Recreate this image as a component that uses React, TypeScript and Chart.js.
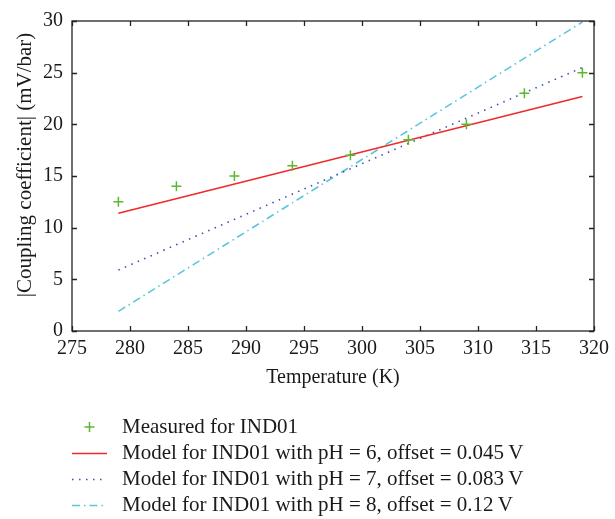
import { useEffect, useRef } from "react";
import { Chart, registerables } from "chart.js";

Chart.register(...registerables);

const measuredTemps = [279, 284, 289, 294, 299, 304, 309, 314, 319];
const measuredValues = [12.5, 14, 15, 16, 17, 18.5, 20, 23, 25];
const modelTemps = [279, 319];
const modelPH6 = [11.4, 22.7];
const modelPH7 = [5.9, 25.5];
const modelPH8 = [1.9, 29.9];
const xTicks = [275, 280, 285, 290, 295, 300, 305, 310, 315, 320];
const yTicks = [0, 5, 10, 15, 20, 25, 30];
const seriesLabels = [
  "Measured for IND01",
  "Model for IND01 with pH = 6, offset = 0.045\u2009V",
  "Model for IND01 with pH = 7, offset = 0.083\u2009V",
  "Model for IND01 with pH = 8, offset = 0.12\u2009V",
];
const xTitle = "Temperature (K)";
const yTitle = "|Coupling coefficient| (mV/bar)";

const FONT = '"Liberation Serif", "Times New Roman", serif';
const TEXT = "#1a1a1a";

const pts = (xs: number[], ys: number[]) => xs.map((x, i) => ({ x, y: ys[i] }));

const framePlugin = {
  id: "frameAndLegend",
  afterDatasetsDraw(chart: any) {
    const { ctx, chartArea, scales } = chart;
    const { left, right, top, bottom } = chartArea;
    const x = scales.x;
    const y = scales.y;
    ctx.save();
    ctx.strokeStyle = "#222";
    ctx.lineWidth = 1.3;
    ctx.setLineDash([]);
    ctx.strokeRect(left, top, right - left, bottom - top);
    const tl = 5;
    ctx.beginPath();
    for (const t of x.ticks) {
      const px = Math.round(x.getPixelForValue(t.value)) + 0.5;
      ctx.moveTo(px, bottom);
      ctx.lineTo(px, bottom - tl);
      ctx.moveTo(px, top);
      ctx.lineTo(px, top + tl);
    }
    for (const t of y.ticks) {
      const py = Math.round(y.getPixelForValue(t.value)) + 0.5;
      ctx.moveTo(left, py);
      ctx.lineTo(left + tl, py);
      ctx.moveTo(right, py);
      ctx.lineTo(right - tl, py);
    }
    ctx.stroke();

    // y-axis title
    ctx.save();
    ctx.translate(25, 165);
    ctx.rotate(-Math.PI / 2);
    ctx.font = `21px ${FONT}`;
    ctx.fillStyle = TEXT;
    ctx.textAlign = "center";
    ctx.textBaseline = "middle";
    ctx.fillText(yTitle, 0, 0);
    ctx.restore();

    // legend
    const datasets = chart.data.datasets;
    ctx.font = `21px ${FONT}`;
    ctx.textAlign = "left";
    ctx.textBaseline = "middle";
    datasets.forEach((ds: any, i: number) => {
      const ry = 427 + 26 * i;
      const x0 = 72;
      const x1 = 107;
      if (ds.showLine === false) {
        const cx = (x0 + x1) / 2;
        ctx.strokeStyle = ds.borderColor;
        ctx.lineWidth = ds.pointBorderWidth;
        ctx.setLineDash([]);
        ctx.beginPath();
        ctx.moveTo(cx - ds.pointRadius, ry);
        ctx.lineTo(cx + ds.pointRadius, ry);
        ctx.moveTo(cx, ry - ds.pointRadius);
        ctx.lineTo(cx, ry + ds.pointRadius);
        ctx.stroke();
      } else {
        ctx.strokeStyle = ds.borderColor;
        ctx.lineWidth = ds.borderWidth;
        ctx.setLineDash(ds.borderDash || []);
        ctx.beginPath();
        ctx.moveTo(x0, ry + 0.5);
        ctx.lineTo(x1, ry + 0.5);
        ctx.stroke();
      }
      ctx.setLineDash([]);
      ctx.fillStyle = TEXT;
      ctx.fillText(ds.label, 122, ry);
    });
    ctx.restore();
  },
};

export default function App() {
  const ref = useRef<HTMLCanvasElement | null>(null);
  useEffect(() => {
    document.body.style.margin = "0";
    const canvas = ref.current;
    if (!canvas) return;
    const chart = new Chart(canvas, {
      type: "line",
      data: {
        datasets: [
          {
            label: seriesLabels[0],
            data: pts(measuredTemps, measuredValues),
            showLine: false,
            borderColor: "#5cb830",
            backgroundColor: "#5cb830",
            pointStyle: "cross",
            pointRadius: 5,
            pointBorderWidth: 1.5,
          },
          {
            label: seriesLabels[1],
            data: pts(modelTemps, modelPH6),
            borderColor: "#ee2a2a",
            borderWidth: 1.5,
            pointRadius: 0,
            fill: false,
          },
          {
            label: seriesLabels[2],
            data: pts(modelTemps, modelPH7),
            borderColor: "#3c4fb0",
            borderWidth: 1.6,
            borderDash: [1.5, 5.5],
            pointRadius: 0,
            fill: false,
          },
          {
            label: seriesLabels[3],
            data: pts(modelTemps, modelPH8),
            borderColor: "#5ac6dc",
            borderWidth: 1.6,
            borderDash: [8, 4, 1.5, 4],
            pointRadius: 0,
            fill: false,
          },
        ] as any,
      },
      options: {
        responsive: false,
        animation: false,
        devicePixelRatio: 1,
        layout: { padding: { top: 19, right: 16, left: 0, bottom: 0 } },
        plugins: { legend: { display: false }, tooltip: { enabled: false } },
        scales: {
          x: {
            type: "linear",
            min: 275,
            max: 320,
            afterBuildTicks: (s: any) => {
              s.ticks = xTicks.map((v) => ({ value: v }));
            },
            afterFit: (s: any) => {
              s.height = 188;
            },
            grid: { display: false, drawTicks: false },
            border: { display: false },
            ticks: { padding: 6, color: TEXT, font: { family: FONT, size: 20 }, maxRotation: 0, autoSkip: false },
            title: {
              display: true,
              text: xTitle,
              color: TEXT,
              font: { family: FONT, size: 20 },
              padding: { top: 0, bottom: 129 },
            },
          },
          y: {
            type: "linear",
            min: 0,
            max: 30,
            afterBuildTicks: (s: any) => {
              s.ticks = yTicks.map((v) => ({ value: v }));
            },
            afterFit: (s: any) => {
              s.width = 72;
            },
            grid: { display: false, drawTicks: false },
            border: { display: false },
            ticks: { padding: 9, color: TEXT, font: { family: FONT, size: 20 }, autoSkip: false },
          },
        },
      },
      plugins: [framePlugin],
    });
    return () => chart.destroy();
  }, []);
  return <canvas ref={ref} width={615} height={519} style={{ display: "block", width: 615, height: 519 }} />;
}
